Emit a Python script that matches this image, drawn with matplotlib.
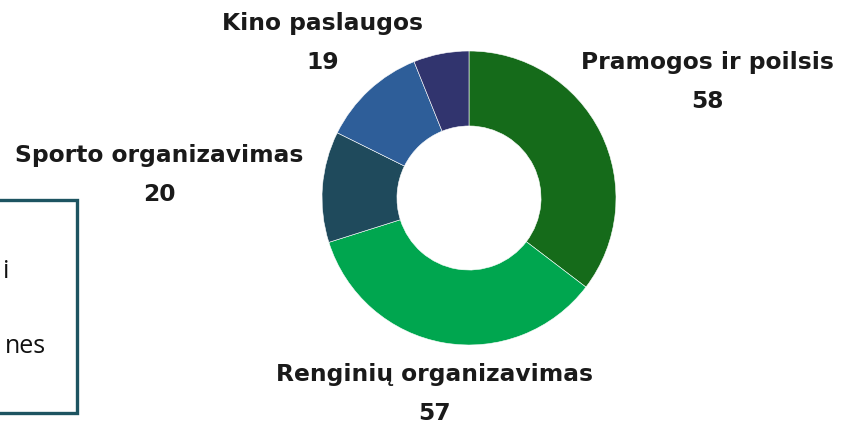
import matplotlib.pyplot as plt
from matplotlib.patches import Rectangle

categories = ['Pramogos ir poilsis', 'Renginių organizavimas', 'Sporto organizavimas',
              'Kino paslaugos', '']
values = [58, 57, 20, 19, 10]
colors = ['#156B1A', '#00A64F', '#1F4A5C', '#2E5E99', '#31346E']

W, H = 842, 425
fig = plt.figure(figsize=(W / 100, H / 100), dpi=100)

# donut, centre (469, 198) px, radius 147 px
cx, cy, r = 469, 198, 147
ax = fig.add_axes([(cx - r) / W, (H - cy - r) / H, 2 * r / W, 2 * r / H])
ax.pie(values, colors=colors, startangle=90, counterclock=False, radius=1,
       wedgeprops=dict(width=0.51, edgecolor='white', linewidth=0.4))
ax.set_xlim(-1, 1)
ax.set_ylim(-1, 1)
ax.set_aspect('equal')
ax.axis('off')

# labels (pixel positions of the label centres)
label_pos = {
    'Pramogos ir poilsis': (707, 82),
    'Renginių organizavimas': (434, 394),
    'Sporto organizavimas': (159, 175),
    'Kino paslaugos': (323, 43),
}
for name, v in zip(categories, values):
    if name not in label_pos:
        continue
    px, py = label_pos[name]
    fig.text(px / W, 1 - py / H, f'{name}\n{v}', ha='center', va='center',
             fontsize=16.8, fontweight='bold', color='#1a1a1a',
             family='DejaVu Sans', linespacing=1.85)

# cropped text box on the left
fig.patches.append(Rectangle((-10 / W, 1 - 413 / H), 87 / W, 213 / H,
                             transform=fig.transFigure, fill=False,
                             edgecolor='#1D5461', linewidth=2.4))
fig.text(9 / W, 1 - 278 / H, 'i', ha='right', va='baseline', fontsize=18,
         family='Open Sans', color='#111111')
fig.text(46 / W, 1 - 353 / H, 'nes', ha='right', va='baseline', fontsize=18,
         family='Open Sans', color='#111111')

fig.savefig('out.png', dpi=100)
